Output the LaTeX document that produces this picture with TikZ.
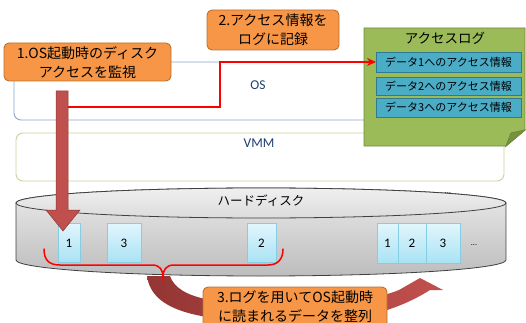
\documentclass[tikz,border=0pt]{standalone}
\usepackage{fontspec}
\setmainfont{Carlito}
\newfontfamily\jp{Noto Sans CJK JP}
\usetikzlibrary{arrows.meta}
\definecolor{orfill}{HTML}{F79646}
\definecolor{ordraw}{HTML}{B9712F}
\definecolor{osdraw}{HTML}{8EA4C8}
\definecolor{vmmdraw}{HTML}{C4D79B}
\definecolor{notefill}{HTML}{9BBB59}
\definecolor{notedraw}{HTML}{71893F}
\definecolor{notefold}{HTML}{76923C}
\definecolor{infofill}{HTML}{4BACC6}
\definecolor{infodraw}{HTML}{2E7A90}
\definecolor{blkdraw}{HTML}{86CDE3}
\definecolor{blktop}{HTML}{E2F6FD}
\definecolor{blkbot}{HTML}{A9E2F4}
\definecolor{txtblue}{HTML}{1F3F6E}
\definecolor{arrfill}{HTML}{C0504D}
\definecolor{arrdark}{HTML}{943634}
\definecolor{arrdraw}{HTML}{8C3836}
\tikzset{
  layerbox/.style={draw, line width=0.9pt, rounded corners=7pt, fill=white},
  orbox/.style={draw=ordraw, fill=orfill, line width=0.9pt, rounded corners=5pt},
  ortext/.style={font=\jp\fontsize{14}{19}\selectfont, align=center, inner sep=0pt},
  infobox/.style={draw=infodraw, fill=infofill, line width=0.9pt},
  infotext/.style={font=\jp\fontsize{11}{13}\selectfont, inner sep=0pt},
  blk/.style={draw=blkdraw, top color=blktop, bottom color=blkbot, line width=0.7pt},
  blktext/.style={font=\fontsize{13}{15}\selectfont, inner sep=0pt},
  redline/.style={draw=red, line width=1.5pt},
}
\begin{document}
\begin{tikzpicture}[x=1pt,y=-1pt]
\useasboundingbox (0,0) rectangle (526,323);
% OS and VMM layers
\draw[layerbox, draw=osdraw] (14,62) rectangle (504,120);
\node[font=\fontsize{13.5}{15}\selectfont, text=txtblue] (oslbl) at (258,85) {OS};
\draw[layerbox, draw=vmmdraw] (16,133) rectangle (504,181);
\node[font=\fontsize{13.5}{15}\selectfont, text=txtblue] (vmmlbl) at (259,143) {VMM};
% access log note
\filldraw[fill=notefill, draw=notedraw, line width=0.9pt]
  (364,28) -- (525,28) -- (525,130) -- (506,146) -- (364,146) -- cycle;
\filldraw[fill=notefold, draw=notedraw, line width=0.9pt]
  (506,146) -- (511,133) -- (525,130) -- cycle;
\node[font=\jp\fontsize{13.5}{15}\selectfont, inner sep=0pt] (logtitle) at (445,38) {アクセスログ};
\draw[infobox] (376,52) rectangle (521,72);
\node[infotext] (info1) at (448.5,62) {データ1へのアクセス情報};
\draw[infobox] (376,77) rectangle (521,95);
\node[infotext] (info2) at (448.5,86) {データ2へのアクセス情報};
\draw[infobox] (376,98) rectangle (521,117);
\node[infotext] (info3) at (448.5,107.5) {データ3へのアクセス情報};
\coordinate (info1w) at (376,62);
\coordinate (monstart) at (67,107);
% red monitoring line
\draw[redline, -{Stealth[length=9pt,width=8pt]}] (monstart) -- (220,107) -- (220,62) -- (info1w);
% orange boxes 1 and 2
\draw[orbox] (4,43) rectangle (171,81);
\node[ortext] (step1) at (87.5,63) {1.OS起動時のディスク\\アクセスを監視};
\draw[orbox] (207,10) rectangle (339,50);
\node[ortext] (step2) at (273,30) {2.アクセス情報を\\ログに記録};
% curved brown arrow (behind the disk)
\shade[left color=arrdark, right color=arrfill]
  (147,276) .. controls (152,312) and (200,322) .. (290,322)
  .. controls (350,322) and (392,314) .. (430,290) -- (443,290) -- (420,278) -- (399,290)
  .. controls (380,298) and (340,305) .. (290,305)
  .. controls (222,305) and (178,300) .. (170,276) -- cycle;
% hard disk cylinder
\draw[draw=black!75, line width=0.8pt, top color=black!8, bottom color=black!26]
  (16,203) -- (16,260) arc[start angle=180, end angle=360, x radius=245pt, y radius=16pt]
  -- (506,203) arc[start angle=0, end angle=180, x radius=245pt, y radius=15pt] -- cycle;
\draw[draw=black!75, line width=0.8pt, top color=black!6, bottom color=black!14]
  (261,203) ellipse[x radius=245pt, y radius=15pt];
\node[font=\jp\fontsize{12.5}{14}\selectfont, inner sep=0pt] (hdd) at (261,201) {ハードディスク};
\node[font=\fontsize{8}{9}\selectfont, inner sep=0pt] (dots1) at (448,193) {...};
% data blocks
\draw[blk] (58,223) rectangle (80,262);
\node[blktext] (b1) at (69,243) {1};
\draw[blk] (107,223) rectangle (141,262);
\node[blktext] (b3) at (124,243) {3};
\draw[blk] (247,223) rectangle (276,262);
\node[blktext] (b2) at (261.5,243) {2};
\draw[blk] (377,223) rectangle (398,263);
\node[blktext] (s1) at (387.5,243) {1};
\draw[blk] (398,223) rectangle (426,263);
\node[blktext] (s2) at (412,243) {2};
\draw[blk] (426,223) rectangle (460,263);
\node[blktext] (s3) at (443,243) {3};
\node[font=\fontsize{8}{9}\selectfont, inner sep=0pt] (dots2) at (474,245) {...};
% red brace
\draw[redline, line cap=round]
  (44,249) .. controls (44,261) and (50,265) .. (60,265) -- (152,265)
  .. controls (160,265) and (163,270) .. (163,277)
  .. controls (163,270) and (166,265) .. (174,265) -- (268,265)
  .. controls (278,265) and (283,259) .. (283,249);
% thick vertical arrow
\filldraw[fill=arrfill, draw=arrdraw, line width=0.5pt]
  (56,91) -- (68,91) -- (68,210) -- (80,210) -- (63,231) -- (46,210) -- (56,210) -- cycle;
% orange box 3
\draw[orbox] (203,287) rectangle (387,332);
\node[ortext] (step3) at (295,307) {3.ログを用いてOS起動時\\に読まれるデータを整列};
\end{tikzpicture}
\end{document}
